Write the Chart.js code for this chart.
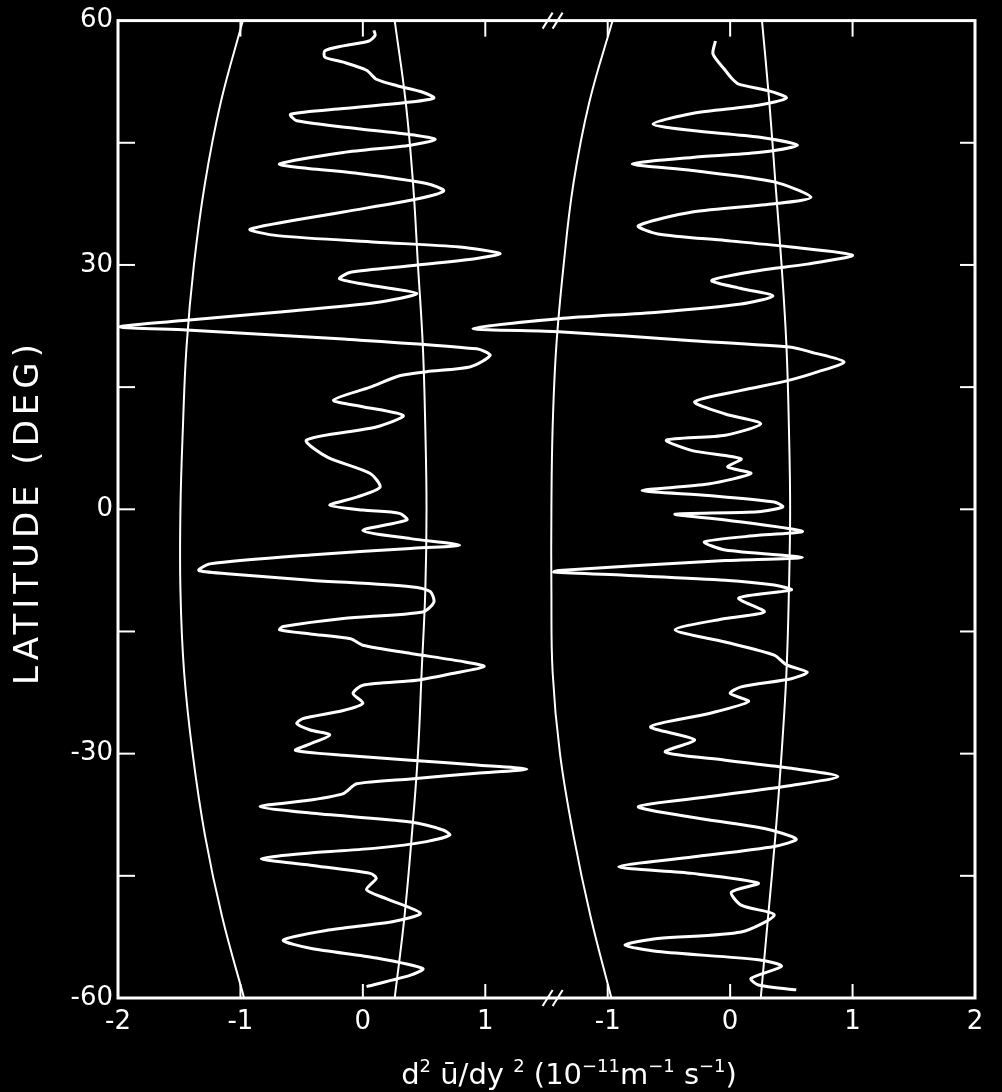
<!DOCTYPE html>
<html>
<head>
<meta charset="utf-8">
<script src="https://cdn.jsdelivr.net/npm/chart.js@4.4.1/dist/chart.umd.min.js"></script>
<style>
  html, body { margin: 0; padding: 0; background: #000; }
  canvas { display: block; }
</style>
</head>
<body>
<canvas id="profile" width="1002" height="1092"></canvas>
<script>
// axis setup
const latTicks = [-60, -30, 0, 30, 60]
const latMinorTicks = [-45, -30, -15, 0, 15, 30, 45]
const xTickValues = [-2, -1, 0, 1, 2, 3, 4, 5]
const xTickLabels = ['-2', '-1', '0', '1', '-1', '0', '1', '2']
const xInnerTicks = [-1, 0, 1, 2, 3, 4]
const panelShift = 3 // right-hand panel sits 3 units further along
const breakAt = 1.55

// smooth reference curves, sampled every 10 deg
const curveLat = [60, 50, 40, 30, 20, 10, 0, -10, -20, -30, -40, -50, -60]
const leftLow = [-0.98, -1.16, -1.29, -1.38, -1.44, -1.47, -1.49, -1.49, -1.46, -1.39, -1.29, -1.15, -0.97]
const leftHigh = [0.26, 0.35, 0.41, 0.45, 0.49, 0.51, 0.52, 0.51, 0.48, 0.45, 0.40, 0.34, 0.26]
const rightLow = [-0.96, -1.15, -1.28, -1.36, -1.42, -1.45, -1.46, -1.46, -1.45, -1.39, -1.28, -1.14, -0.97]
const rightHigh = [0.26, 0.32, 0.37, 0.42, 0.46, 0.48, 0.49, 0.48, 0.46, 0.42, 0.37, 0.31, 0.25]

// d2u/dy2 profiles
const leftLat = [
    58.8, 58.2, 57.5, 56.9, 56.3, 55.5, 54.9, 53.9, 52.8, 52.0, 51.2, 50.5, 50.0, 49.2, 48.5, 47.7,
    46.7, 45.9, 45.4, 44.7, 43.8, 42.4, 42.0, 41.2, 40.0, 39.1, 38.1, 36.5, 34.4, 33.6, 32.8, 32.2,
    31.4, 30.8, 29.9, 29.1, 28.3, 27.5, 26.5, 25.4, 24.2, 23.2, 22.4, 22.0, 20.9, 19.7, 18.9, 17.5,
    16.9, 16.4, 15.0, 13.4, 12.6, 11.5, 10.1, 8.5, 6.4, 4.4, 2.7, 1.5, 0.5, -0.1, -0.5, -1.3,
    -2.6, -3.6, -4.4, -4.8, -5.6, -6.7, -7.5, -7.9, -8.7, -9.5, -10.1, -11.4, -12.6, -13.4, -14.4, -14.8,
    -15.3, -15.9, -16.7, -17.7, -18.7, -19.3, -20.2, -21.0, -21.6, -22.6, -23.8, -24.7, -25.7, -26.3, -27.1, -27.7,
    -28.8, -29.6, -30.2, -30.8, -31.4, -31.9, -32.4, -33.1, -33.7, -34.9, -35.7, -36.5, -37.3, -38.4, -39.4, -40.0,
    -40.8, -41.6, -42.2, -42.9, -43.7, -44.7, -45.3, -46.7, -47.8, -49.6, -50.6, -51.7, -52.9, -53.9, -55.1, -56.4,
    -57.2, -58.6
]
const leftVal = [
    0.09, 0.10, 0.05, -0.16, -0.31, -0.31, -0.16, 0.03, 0.11, 0.28, 0.49, 0.58, 0.39, -0.16, -0.59, -0.54,
    -0.02, 0.44, 0.59, 0.39, -0.16, -0.68, -0.54, -0.02, 0.52, 0.66, 0.44, -0.16, -0.92, -0.70, 0.11, 0.79,
    1.12, 0.93, 0.39, -0.10, -0.19, 0.06, 0.44, 0.11, -0.70, -1.44, -1.99, -1.44, -0.16, 0.93, 1.04, 0.88,
    0.52, 0.30, 0.06, -0.24, 0.00, 0.33, 0.11, -0.46, -0.29, 0.06, 0.14, -0.05, -0.27, 0.00, 0.30, 0.36,
    0.00, 0.39, 0.79, 0.39, -0.43, -1.25, -1.34, -1.11, -0.43, 0.39, 0.55, 0.58, 0.49, -0.16, -0.65, -0.68,
    -0.43, -0.10, 0.00, 0.39, 0.82, 0.99, 0.72, 0.44, 0.00, -0.08, 0.00, -0.16, -0.49, -0.54, -0.43, -0.27,
    -0.43, -0.55, -0.16, 0.39, 0.93, 1.34, 0.93, 0.39, -0.05, -0.16, -0.43, -0.84, -0.43, 0.39, 0.66, 0.71,
    0.52, 0.11, -0.43, -0.83, -0.43, 0.06, 0.11, 0.03, 0.19, 0.47, 0.25, -0.30, -0.65, -0.43, 0.11, 0.49,
    0.39, 0.03
]
const rightLat = [
    57.5, 55.9, 53.9, 52.8, 52.2, 51.4, 50.5, 49.6, 48.6, 47.3, 46.5, 45.7, 44.7, 43.8, 43.2, 42.4,
    41.6, 40.2, 38.3, 37.5, 36.5, 34.8, 33.8, 33.0, 32.2, 31.2, 30.1, 29.3, 28.1, 27.1, 26.2, 25.2,
    24.2, 23.4, 22.2, 21.8, 20.7, 19.9, 19.3, 18.1, 16.9, 15.8, 14.6, 13.2, 11.7, 10.5, 9.1, 8.5,
    7.2, 6.2, 5.2, 4.4, 3.1, 2.3, 1.7, 0.9, 0.3, -0.3, -0.6, -1.3, -2.7, -3.2, -4.0, -5.0,
    -5.9, -6.3, -7.5, -7.7, -8.1, -8.7, -9.3, -9.9, -10.9, -12.6, -13.4, -14.8, -16.3, -17.9, -19.1, -20.0,
    -20.8, -21.8, -22.6, -23.6, -25.1, -26.7, -28.3, -29.8, -30.8, -31.8, -32.8, -33.9, -35.3, -36.5, -37.8, -39.2,
    -40.5, -41.4, -42.7, -43.9, -44.7, -45.9, -47.0, -48.6, -49.8, -51.9, -52.7, -53.5, -54.3, -55.3, -56.1, -57.6,
    -58.4, -59.0
]
const rightVal = [
    -0.12, -0.14, -0.04, 0.02, 0.07, 0.31, 0.46, 0.23, -0.31, -0.63, -0.31, 0.23, 0.55, 0.23, -0.31, -0.80,
    -0.31, 0.36, 0.66, 0.36, -0.31, -0.75, -0.59, -0.04, 0.50, 1.00, 0.63, 0.23, -0.15, 0.09, 0.35, 0.09,
    -0.59, -1.40, -2.10, -1.40, -0.31, 0.50, 0.66, 0.93, 0.72, 0.47, 0.09, -0.29, -0.04, 0.25, -0.04, -0.52,
    -0.31, 0.09, -0.02, 0.17, -0.18, -0.72, -0.18, 0.36, 0.43, 0.23, -0.45, -0.04, 0.59, 0.23, -0.21, -0.04,
    0.59, -0.04, -1.40, -1.44, -0.86, -0.04, 0.36, 0.50, 0.07, 0.28, -0.04, -0.45, -0.04, 0.36, 0.46, 0.63,
    0.50, 0.09, 0.00, 0.15, -0.18, -0.65, -0.29, -0.53, -0.04, 0.50, 0.88, 0.50, -0.18, -0.75, -0.31, 0.28,
    0.54, 0.36, -0.31, -0.91, -0.31, 0.23, 0.01, 0.09, 0.36, 0.09, -0.59, -0.86, -0.59, 0.23, 0.42, 0.17,
    0.23, 0.54
]

function toPoints(lats, vals, shift) {
    return lats.map((lat, i) => ({ x: vals[i] + shift, y: lat }))
}

function line(ctx, x1, y1, x2, y2) {
    ctx.beginPath()
    ctx.moveTo(x1, y1)
    ctx.lineTo(x2, y2)
    ctx.stroke()
}

// draws text runs, superscripts raised and smaller
function drawRuns(ctx, runs, cx, baseline, size) {
    const widths = runs.map(([t, sup]) => {
        ctx.font = `${sup ? size * 0.62 : size}px "DejaVu Sans"`
        return ctx.measureText(t).width
    })
    let px = cx - widths.reduce((a, b) => a + b, 0) / 2
    runs.forEach(([t, sup], i) => {
        ctx.font = `${sup ? size * 0.62 : size}px "DejaVu Sans"`
        ctx.fillText(t, px, sup ? baseline - size * 0.42 : baseline)
        px += widths[i]
    })
}

const framePlugin = {
    id: 'frame',
    beforeDraw(chart) {
        const ctx = chart.ctx
        ctx.save()
        ctx.fillStyle = '#000'
        ctx.fillRect(0, 0, chart.width, chart.height)
        ctx.restore()
    },
    afterDatasetsDraw(chart) {
        const { ctx, chartArea: a, scales: { x, y } } = chart
        ctx.save()
        ctx.strokeStyle = '#fff'
        ctx.lineWidth = 3
        ctx.strokeRect(a.left, a.top, a.right - a.left, a.bottom - a.top)

        ctx.lineWidth = 2
        latMinorTicks.forEach((v) => {
            const py = y.getPixelForValue(v)
            line(ctx, a.left, py, a.left + 17, py)
            line(ctx, a.right, py, a.right - 15, py)
        })
        xInnerTicks.forEach((v) => {
            const px = x.getPixelForValue(v)
            line(ctx, px, a.top, px, a.top + 16)
            line(ctx, px, a.bottom, px, a.bottom - 14)
        })

        // axis break marks
        const bx = x.getPixelForValue(breakAt)
        ;[a.top, a.bottom].forEach((py) => {
            ;[-5, 5].forEach((d) => line(ctx, bx + d - 5, py + 8, bx + d + 5, py - 8))
        })

        // axis titles
        ctx.fillStyle = '#fff'
        ctx.textBaseline = 'alphabetic'
        ctx.textAlign = 'left'
        drawRuns(ctx, [
            ['d', 0], ['2', 1], [' ū/dy ', 0], ['2', 1], [' (10', 0], ['−11', 1],
            ['m', 0], ['−1', 1], [' s', 0], ['−1', 1], [')', 0]
        ], 569, 1084, 29)

        ctx.translate(29, 514)
        ctx.rotate(-Math.PI / 2)
        ctx.textAlign = 'center'
        ctx.textBaseline = 'middle'
        ctx.font = '34px "DejaVu Sans"'
        ctx.letterSpacing = '5px'
        ctx.fillText('LATITUDE (DEG)', 2, 0)
        ctx.restore()
    }
}

const thin = { showLine: true, borderColor: '#fff', borderWidth: 2, pointRadius: 0, tension: 0.4, fill: false }
const thick = { showLine: true, borderColor: '#fff', borderWidth: 3, pointRadius: 0, tension: 0.25, fill: false }

const chart = new Chart(document.getElementById('profile'), {
    type: 'scatter',
    data: {
        datasets: [
            { ...thin, label: 'left low', data: toPoints(curveLat, leftLow, 0) },
            { ...thin, label: 'left high', data: toPoints(curveLat, leftHigh, 0) },
            { ...thin, label: 'right low', data: toPoints(curveLat, rightLow, panelShift) },
            { ...thin, label: 'right high', data: toPoints(curveLat, rightHigh, panelShift) },
            { ...thick, label: 'left profile', data: toPoints(leftLat, leftVal, 0) },
            { ...thick, label: 'right profile', data: toPoints(rightLat, rightVal, panelShift) }
        ]
    },
    options: {
        responsive: false,
        animation: false,
        devicePixelRatio: 1,
        layout: { padding: { top: 20, right: 27, left: 0, bottom: 0 } },
        plugins: { legend: { display: false }, tooltip: { enabled: false } },
        scales: {
            x: {
                type: 'linear',
                min: -2,
                max: 5,
                afterBuildTicks: (scale) => { scale.ticks = xTickValues.map((v) => ({ value: v })) },
                afterFit: (scale) => { scale.height = 94 },
                grid: { display: false, drawTicks: false },
                border: { display: false },
                ticks: {
                    color: '#fff',
                    padding: 9,
                    maxRotation: 0,
                    autoSkip: false,
                    font: { family: 'DejaVu Sans', size: 26 },
                    callback: (v) => xTickLabels[xTickValues.indexOf(v)]
                }
            },
            y: {
                type: 'linear',
                min: -60,
                max: 60,
                afterBuildTicks: (scale) => { scale.ticks = latTicks.map((v) => ({ value: v })) },
                afterFit: (scale) => { scale.width = 118 },
                grid: { display: false, drawTicks: false },
                border: { display: false },
                ticks: {
                    color: '#fff',
                    padding: 5,
                    font: { family: 'DejaVu Sans', size: 26 }
                }
            }
        }
    },
    plugins: [framePlugin]
})
</script>
</body>
</html>
